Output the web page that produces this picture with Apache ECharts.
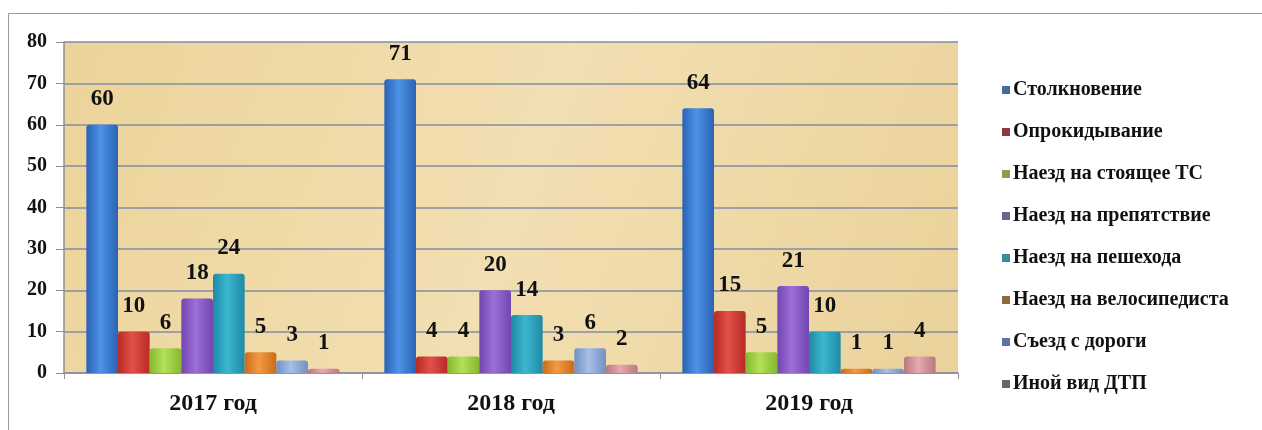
<!DOCTYPE html>
<html>
<head>
<meta charset="utf-8">
<script src="https://cdn.jsdelivr.net/npm/echarts@6/dist/echarts.min.js"></script>
<style>
  html, body { margin: 0; padding: 0; background: #fff; }
  #charts { width: 1262px; height: 430px; }
</style>
</head>
<body>
<div id="charts"></div>
<script>
// данные
const years = ['2017 год', '2018 год', '2019 год']
const kinds = [
  'Столкновение',
  'Опрокидывание',
  'Наезд на стоящее ТС',
  'Наезд на препятствие',
  'Наезд на пешехода',
  'Наезд на велосипедиста',
  'Съезд с дороги',
  'Иной вид ДТП'
]
const collision = [60, 71, 64]
const overturn = [10, 4, 15]
const hitParked = [6, 4, 5]
const hitObstacle = [18, 20, 21]
const hitPedestrian = [24, 14, 10]
const hitCyclist = [5, 3, 1]
const offRoad = [3, 6, 1]
const otherKind = [1, 2, 4]
const yTicks = [0, 10, 20, 30, 40, 50, 60, 70, 80]

const values = [collision, overturn, hitParked, hitObstacle, hitPedestrian, hitCyclist, offRoad, otherKind]

// цвета столбиков: [край, середина]
const barColors = [
  ['#2b62b4', '#4d93e6'],
  ['#b82a26', '#e2504a'],
  ['#86b82c', '#b4e05a'],
  ['#7146b0', '#9d6fd8'],
  ['#1f8aa4', '#3cb6d0'],
  ['#cc6a1a', '#f29a44'],
  ['#7190c4', '#a8bfe6'],
  ['#b87880', '#e6aab0']
]
// маркеры легенды темнее
const legendColors = ['#4b6a9c', '#8c3c40', '#86a04e', '#6c6488', '#3a8c9c', '#8c6a40', '#5a72a4', '#6c666c']

const font = '"Liberation Serif", "Times New Roman", serif'

const charts = echarts.init(document.getElementById('charts'))

const series = kinds.map((name, i) => ({
  name,
  type: 'bar',
  data: values[i],
  barGap: '0%',
  barCategoryGap: '15%',
  itemStyle: {
    color: {
      type: 'linear', x: 0, y: 0, x2: 1, y2: 0,
      colorStops: [
        { offset: 0, color: barColors[i][0] },
        { offset: 0.45, color: barColors[i][1] },
        { offset: 1, color: barColors[i][0] }
      ]
    },
    borderRadius: [3, 3, 0, 0]
  },
  label: {
    show: true,
    position: 'top',
    distance: 14,
    fontFamily: font,
    fontWeight: 'bold',
    fontSize: 23,
    color: '#111'
  }
}))

const option = {
  animation: false,
  backgroundColor: '#fff',
  graphic: [
    {
      type: 'rect',
      shape: { x: 8.5, y: 13.5, width: 1300, height: 500 },
      style: { fill: 'none', stroke: '#9a9a9a', lineWidth: 1 }
    }
  ],
  legend: {
    orient: 'vertical',
    left: 997,
    top: 75,
    itemWidth: 8,
    itemHeight: 8,
    itemGap: 22,
    icon: 'rect',
    textStyle: {
      fontFamily: font,
      fontWeight: 'bold',
      fontSize: 20,
      color: '#111',
      padding: [0, 0, 0, -2]
    },
    data: kinds.map((name, i) => ({ name, itemStyle: { color: legendColors[i] } }))
  },
  grid: {
    left: 64,
    right: 304,
    top: 42,
    bottom: 57,
    show: true,
    borderWidth: 0,
    backgroundColor: {
      type: 'linear', x: 0, y: 0, x2: 1, y2: 1,
      colorStops: [
        { offset: 0, color: '#ecd39a' },
        { offset: 0.5, color: '#f2dfb2' },
        { offset: 1, color: '#ebd29b' }
      ]
    }
  },
  xAxis: {
    type: 'category',
    data: years,
    axisLine: { lineStyle: { color: '#8f8f8f', width: 1.5 } },
    axisTick: { show: true, length: 6, lineStyle: { color: '#8f8f8f' } },
    axisLabel: {
      margin: 19,
      fontFamily: font,
      fontWeight: 'bold',
      fontSize: 24,
      color: '#111'
    }
  },
  yAxis: {
    type: 'value',
    min: 0,
    max: 80,
    interval: 10,
    axisLine: { show: true, lineStyle: { color: '#8f8f8f', width: 1.5 } },
    axisTick: { show: true, length: 8, lineStyle: { color: '#8f8f8f' } },
    splitLine: { lineStyle: { color: '#7f8ea6', width: 1.5 } },
    axisLabel: {
      margin: 17,
      fontFamily: font,
      fontWeight: 'bold',
      fontSize: 20,
      color: '#111',
      formatter: v => (yTicks.indexOf(v) >= 0 ? String(v) : '')
    }
  },
  series
}

charts.setOption(option)
</script>
</body>
</html>
